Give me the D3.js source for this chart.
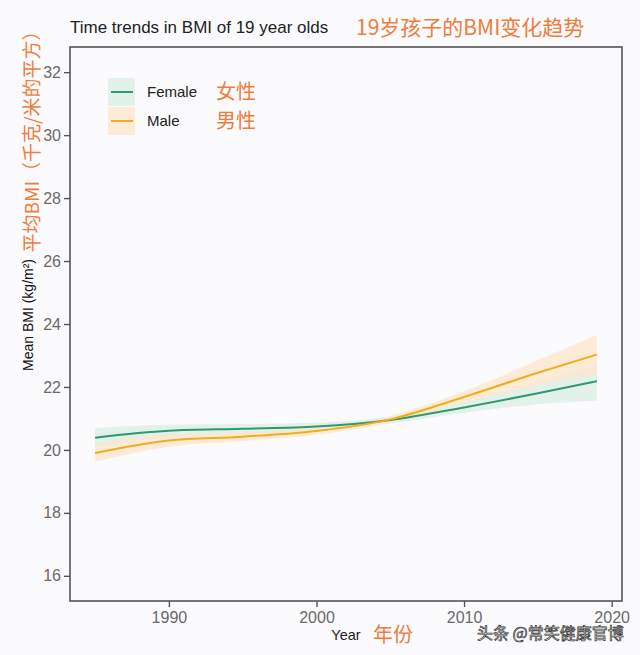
<!DOCTYPE html>
<html><head><meta charset="utf-8">
<script src="https://cdn.jsdelivr.net/npm/d3@7/dist/d3.min.js"></script>
<style>
body{margin:0;background:#fbfafc;}
svg{display:block;}
</style></head>
<body><svg id="c" width="640" height="655"></svg>
<script>
const years = [1985, 1990, 1995, 2000, 2005, 2010, 2015, 2019];
const femaleMean  = [20.39, 20.61, 20.67, 20.74, 20.95, 21.35, 21.80, 22.18];
const femaleLower = [20.08, 20.42, 20.52, 20.62, 20.84, 21.18, 21.45, 21.57];
const femaleUpper = [20.70, 20.80, 20.82, 20.86, 21.06, 21.52, 22.15, 22.72];
const maleMean  = [19.90, 20.30, 20.42, 20.60, 20.97, 21.68, 22.45, 23.03];
const maleLower = [19.62, 20.10, 20.28, 20.48, 20.86, 21.50, 22.05, 22.40];
const maleUpper = [20.18, 20.50, 20.56, 20.72, 21.08, 21.86, 22.85, 23.65];
const xTicks = [1990, 2000, 2010, 2020];
const yTicks = [16, 18, 20, 22, 24, 26, 28, 30, 32];
const seriesNames = ["Female", "Male"];
const seriesNamesCN = ["女性", "男性"];

const svg = d3.select("#c");
const L = 70, R = 622, T = 47, B = 601;
const x = d3.scaleLinear().domain([1983.3, 2020.7]).range([L, R]);
const y = d3.scaleLinear().domain([15.2, 32.8]).range([B, T]);

const cols = {Female: "#2f9a6c", Male: "#efae1c"};
const fills = {Female: "#d9eee4", Male: "#fde6cc"};
const orange = "#f07c3c";
const cn = "'Noto Sans CJK SC', sans-serif";
const lat = "'Liberation Sans', Arial, sans-serif";

const series = [
  {name: "Female", mean: femaleMean, lo: femaleLower, hi: femaleUpper},
  {name: "Male", mean: maleMean, lo: maleLower, hi: maleUpper}
];

const curve = d3.curveMonotoneX;
const area = d3.area().curve(curve).x((d) => x(d.yr)).y0((d) => y(d.lo)).y1((d) => y(d.hi));
const line = d3.line().curve(curve).x((d) => x(d.yr)).y((d) => y(d.m));

const g = svg.append("g");
series.forEach((s) => {
  const pts = years.map((yr, i) => ({yr, m: s.mean[i], lo: s.lo[i], hi: s.hi[i]}));
  g.append("path").attr("d", area(pts)).attr("fill", fills[s.name]).attr("fill-opacity", 0.75);
});
series.forEach((s) => {
  const pts = years.map((yr, i) => ({yr, m: s.mean[i]}));
  g.append("path").attr("d", line(pts)).attr("fill", "none").attr("stroke", cols[s.name]).attr("stroke-width", 2);
});

// panel border
svg.append("rect").attr("x", L).attr("y", T).attr("width", R - L).attr("height", B - T)
  .attr("fill", "none").attr("stroke", "#555").attr("stroke-width", 1.6);

// axes
const xa = svg.append("g").attr("transform", `translate(0,${B})`)
  .call(d3.axisBottom(x).tickValues(xTicks).tickFormat(d3.format("d")).tickSize(6).tickPadding(5));
const ya = svg.append("g").attr("transform", `translate(${L},0)`)
  .call(d3.axisLeft(y).tickValues(yTicks).tickSize(6).tickPadding(3));
[xa, ya].forEach((a) => {
  a.select(".domain").remove();
  a.selectAll(".tick line").attr("stroke", "#555").attr("stroke-width", 1.4);
  a.selectAll(".tick text").attr("fill", "#6a6a6a").attr("font-size", 16).attr("font-family", lat);
});

// title
svg.append("text").attr("x", 70).attr("y", 33).text("Time trends in BMI of 19 year olds")
  .attr("font-family", lat).attr("font-size", 17).attr("fill", "#222");
svg.append("text").attr("x", 356).attr("y", 35).text("19岁孩子的BMI变化趋势")
  .attr("font-family", cn).attr("font-size", 21).attr("fill", orange);

// y labels
svg.append("text").attr("transform", "translate(33,315) rotate(-90)").attr("text-anchor", "middle")
  .text("Mean BMI (kg/m²)").attr("font-family", lat).attr("font-size", 14).attr("fill", "#111");
svg.append("text").attr("transform", "translate(39,137) rotate(-90)").attr("text-anchor", "middle")
  .text("平均BMI（千克/米的平方）").attr("font-family", cn).attr("font-size", 19).attr("fill", orange);

// x labels
svg.append("text").attr("x", 346).attr("y", 640).attr("text-anchor", "middle").text("Year")
  .attr("font-family", lat).attr("font-size", 14.5).attr("fill", "#222");
svg.append("text").attr("x", 373).attr("y", 642).text("年份")
  .attr("font-family", cn).attr("font-size", 20).attr("fill", orange);

// watermark
svg.append("text").attr("x", 477).attr("y", 639).text("头条 @常笑健康官博")
  .attr("font-family", cn).attr("font-size", 16).attr("fill", "#fff")
  .attr("stroke", "#333").attr("stroke-width", 0.7);

// legend
seriesNames.forEach((n, i) => {
  const ky = 78 + i * 29;
  svg.append("rect").attr("x", 108).attr("y", ky).attr("width", 27).attr("height", 28)
    .attr("fill", fills[n]).attr("fill-opacity", 0.75);
  svg.append("line").attr("x1", 111).attr("x2", 133).attr("y1", ky + 14).attr("y2", ky + 14)
    .attr("stroke", cols[n]).attr("stroke-width", 2);
  svg.append("text").attr("x", 147).attr("y", ky + 19).text(n)
    .attr("font-family", lat).attr("font-size", 15).attr("fill", "#222");
  svg.append("text").attr("x", 216).attr("y", ky + 21).text(seriesNamesCN[i])
    .attr("font-family", cn).attr("font-size", 20).attr("fill", orange);
});
</script></body></html>
